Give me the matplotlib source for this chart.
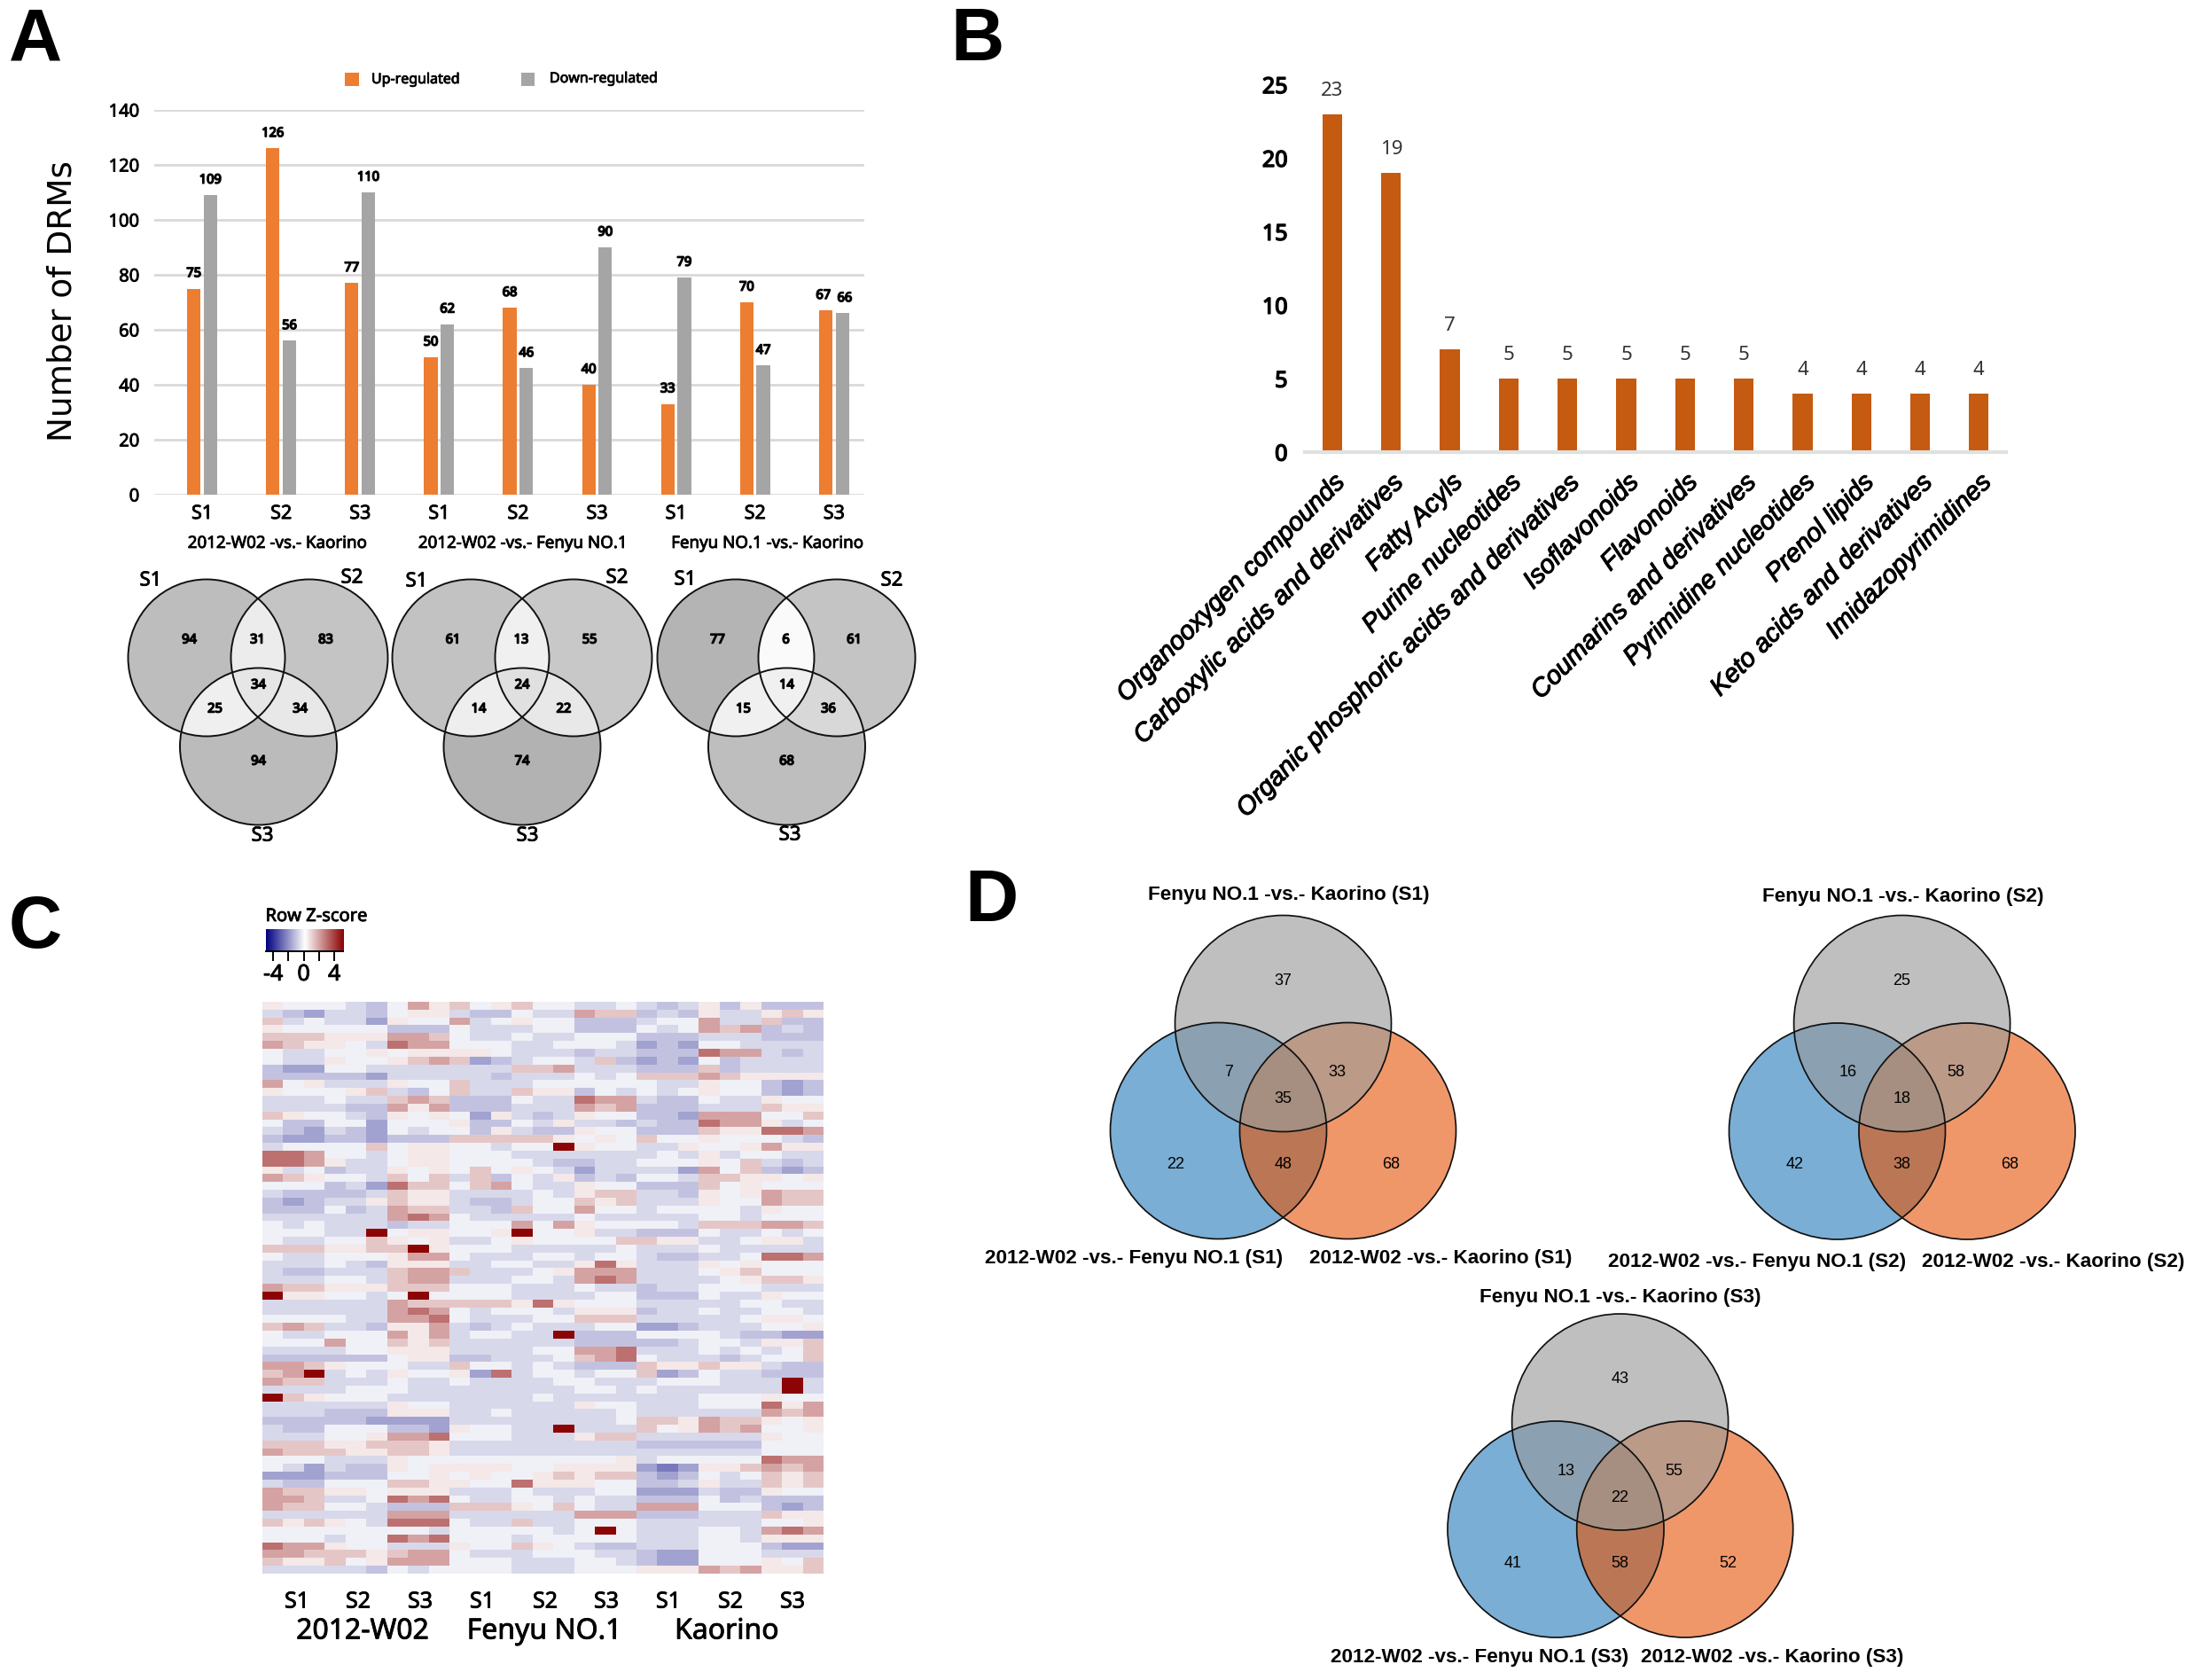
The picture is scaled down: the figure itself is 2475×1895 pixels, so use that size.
import numpy as np
import matplotlib
matplotlib.use("Agg")
import matplotlib.pyplot as plt
import matplotlib.patheffects as pe
from matplotlib.colors import LinearSegmentedColormap
from matplotlib.patches import Circle, Polygon, Rectangle

plt.rcParams['font.family'] = ['Noto Sans', 'DejaVu Sans']

W, H = 2475, 1895

# panel A
samples = ['S1', 'S2', 'S3'] * 3
up = [75, 126, 77, 50, 68, 40, 33, 70, 67]
down = [109, 56, 110, 62, 46, 90, 79, 47, 66]
comparisons = ['2012-W02 -vs.- Kaorino', '2012-W02 -vs.- Fenyu NO.1', 'Fenyu NO.1 -vs.- Kaorino']
venn_a1 = [94, 31, 83, 34, 25, 34, 94]
venn_a2 = [61, 13, 55, 24, 14, 22, 74]
venn_a3 = [77, 6, 61, 14, 15, 36, 68]

# panel B
classes = ['Organooxygen compounds', 'Carboxylic acids and derivatives', 'Fatty Acyls',
           'Purine nucleotides', 'Organic phosphoric acids and derivatives', 'Isoflavonoids',
           'Flavonoids', 'Coumarins and derivatives', 'Pyrimidine nucleotides', 'Prenol lipids',
           'Keto acids and derivatives', 'Imidazopyrimidines']
class_counts = [23, 19, 7, 5, 5, 5, 5, 5, 4, 4, 4, 4]

# panel C, one digit per cell (see levels below)
heat_levels = [-2.6, -1.8, -1.2, -0.75, -0.3, 0.45, 1.1, 1.8, 2.8, 4.9]
heat_rows = [
    "544 432 475 645 644 334 323 525 222",
    "321 332 455 322 433 766 232 533 565",
    "634 331 544 734 544 222 344 733 622",
    "544 444 222 433 344 222 434 767 232",
    "666 555 776 433 433 444 222 333 222",
    "765 543 877 444 334 443 121 443 333",
    "433 445 455 554 333 233 222 877 323",
    "433 544 567 612 344 362 121 423 333",
    "211 443 333 333 667 333 222 623 333",
    "222 221 333 332 333 434 666 765 555",
    "745 333 544 633 344 444 433 544 212",
    "544 456 324 633 655 243 434 544 212",
    "333 433 676 222 433 877 322 433 544",
    "333 322 757 222 333 767 222 333 655",
    "654 432 545 415 323 544 221 777 446",
    "422 441 444 522 435 332 322 877 534",
    "321 321 434 425 322 544 222 655 887",
    "211 221 222 666 665 454 644 544 432",
    "344 446 455 443 449 544 335 445 755",
    "887 443 455 444 333 333 343 534 433",
    "887 533 455 444 432 233 444 546 323",
    "534 233 545 464 543 133 331 746 212",
    "765 443 646 362 435 232 443 665 545",
    "444 231 866 467 433 544 222 645 444",
    "322 223 655 333 343 566 332 545 766",
    "212 335 655 322 344 656 333 544 766",
    "222 423 766 332 644 744 344 443 544",
    "333 333 787 433 333 433 333 443 444",
    "434 333 233 444 747 544 443 666 776",
    "444 339 455 445 944 533 222 433 434",
    "433 446 545 334 544 446 655 334 553",
    "666 556 695 444 333 334 333 433 333",
    "433 444 577 433 344 344 322 334 887",
    "333 432 555 334 433 585 333 545 444",
    "322 333 677 633 345 777 333 456 444",
    "333 443 677 333 443 787 333 345 665",
    "766 555 666 444 333 433 233 444 333",
    "955 443 494 444 333 344 222 433 544",
    "333 333 766 666 585 444 333 334 433",
    "333 333 787 434 443 555 233 433 443",
    "444 433 778 433 344 666 333 334 554",
    "676 332 557 323 433 344 112 333 445",
    "433 444 757 344 339 222 444 432 211",
    "444 744 656 333 333 222 223 443 556",
    "333 344 555 333 344 778 333 434 346",
    "222 222 455 223 334 678 433 323 446",
    "776 544 433 644 343 222 655 655 322",
    "679 343 544 518 344 344 612 433 222",
    "766 333 433 433 334 433 344 433 393",
    "333 344 433 333 333 443 433 333 393",
    "965 444 333 333 343 333 333 444 544",
    "333 333 544 333 333 544 333 444 857",
    "333 222 555 334 333 334 333 333 767",
    "222 221 111 333 333 334 665 766 545",
    "322 444 221 544 339 333 645 767 445",
    "333 445 778 444 333 566 333 333 544",
    "666 556 665 333 333 333 222 222 444",
    "766 655 665 333 333 333 333 333 444",
    "444 333 544 444 444 445 344 444 877",
    "431 322 545 555 445 555 101 556 767",
    "111 222 445 454 456 566 212 434 656",
    "322 444 665 544 855 544 223 533 656",
    "766 554 555 333 433 344 111 322 544",
    "776 334 878 433 443 433 222 423 222",
    "766 443 222 666 546 433 777 444 212",
    "333 333 777 333 333 777 222 333 655",
    "656 543 888 433 633 444 333 333 445",
    "444 444 443 444 443 494 333 443 787",
    "444 344 878 444 344 444 333 443 555",
    "877 544 333 544 654 322 333 444 211",
    "776 665 677 433 344 433 211 444 333",
    "655 645 777 444 333 443 211 444 546",
    "333 332 434 444 333 444 555 767 556",
]
genotypes = ['2012-W02', 'Fenyu NO.1', 'Kaorino']

# panel D
venn_d1 = [37, 7, 33, 35, 22, 48, 68]
venn_d2 = [25, 16, 58, 18, 42, 38, 68]
venn_d3 = [43, 13, 55, 22, 41, 58, 52]

# thickens the regular weight, the original text sits between regular and bold
SEMI = [pe.withStroke(linewidth=0.6, foreground='black')]
HEAVY = [pe.withStroke(linewidth=1.1, foreground='black')]


def px_axes(x0, y0, x1, y1):
    return fig.add_axes([x0 / W, 1 - y1 / H, (x1 - x0) / W, (y1 - y0) / H])


def region(circles, r):
    # convex intersection of circles, as an ordered polygon
    t = np.linspace(0, 2 * np.pi, 720, endpoint=False)
    pts = []
    for i, (cx, cy) in enumerate(circles):
        p = np.column_stack([cx + r * np.cos(t), cy + r * np.sin(t)])
        for j, (ox, oy) in enumerate(circles):
            if j != i:
                p = p[np.hypot(p[:, 0] - ox, p[:, 1] - oy) <= r + 1e-9]
        pts.append(p)
    pts = np.vstack(pts)
    c = pts.mean(axis=0)
    return pts[np.argsort(np.arctan2(pts[:, 1] - c[1], pts[:, 0] - c[0]))]


def venn(ax, a, b, c, r, cols, lw):
    # cols: a, b, c, ab, ac, bc, abc
    for cen, col in zip((a, b, c), cols[:3]):
        ax.add_patch(Circle(cen, r, fc=col, ec='none', zorder=2))
    for group, col in zip(((a, b), (a, c), (b, c), (a, b, c)), cols[3:]):
        ax.add_patch(Polygon(region(group, r), fc=col, ec=col, lw=0.5, zorder=3))
    for cen in (a, b, c):
        ax.add_patch(Circle(cen, r, fc='none', ec='#111111', lw=lw, zorder=4))


fig = plt.figure(figsize=(W / 100, H / 100), dpi=100, facecolor='white')
bg = fig.add_axes([0, 0, 1, 1])
bg.set_xlim(0, W)
bg.set_ylim(H, 0)
bg.axis('off')

# panel letters
for letter, x, y in [('A', 40, 46), ('B', 1103, 46), ('C', 40, 1047), ('D', 1119, 1017)]:
    bg.text(x, y, letter, fontsize=60, fontweight='bold', family='Liberation Sans', ha='center', va='center')

# ---- A: bars
ax = px_axes(174, 124, 975, 558)
x = np.arange(len(up))
ax.bar(x - 0.105, up, 0.17, color='#ed7d31')
ax.bar(x + 0.105, down, 0.17, color='#a5a5a5')
for i in x:
    ux, dx = i - 0.105, i + 0.105
    if up[i] == 67:
        ux -= 0.03
        dx += 0.03
    ax.text(ux, up[i] + 3, str(up[i]), ha='center', va='bottom', fontsize=10.5, path_effects=HEAVY)
    ax.text(dx, down[i] + 3, str(down[i]), ha='center', va='bottom', fontsize=10.5, path_effects=HEAVY)
ax.set_xlim(-0.606, 8.384)
ax.set_ylim(0, 140)
ax.set_yticks(range(0, 141, 20))
ax.set_xticks(x, samples)
ax.grid(axis='y', color='#d9d9d9', lw=2)
ax.set_axisbelow(True)
for s in ax.spines.values():
    s.set_visible(False)
ax.tick_params(length=0, labelsize=14.5)
ax.tick_params(axis='x', labelsize=15.5, pad=8)
ax.tick_params(axis='y', pad=12)
for lab in ax.get_xticklabels() + ax.get_yticklabels():
    lab.set_path_effects(SEMI)

for cx, label in zip((313, 590, 866), comparisons):
    bg.text(cx, 613, label, ha='center', va='center', fontsize=13.5, path_effects=SEMI)
bg.text(71, 339, 'Number of DRMs', rotation=90, ha='center', va='center', fontsize=27, family='DejaVu Sans')
bg.add_patch(Rectangle((389, 82), 16, 15, fc='#ed7d31', ec='none'))
bg.add_patch(Rectangle((588, 82), 15, 15, fc='#a5a5a5', ec='none'))
bg.text(419, 90, 'Up-regulated', va='center', fontsize=11.5, path_effects=SEMI)
bg.text(620, 89, 'Down-regulated', va='center', fontsize=11.5, path_effects=SEMI)

# ---- A: venns
R_a = 88.5
y_top, y_bot = 742, 842
a_cols = [
    ['#bdbdbd', '#c4c4c4', '#bbbbbb', '#ececec', '#efefef', '#e8e8e8', '#e6e6e6'],
    ['#c2c2c2', '#c8c8c8', '#b2b2b2', '#f0f0f0', '#eeeeee', '#e8e8e8', '#e0e0e0'],
    ['#b4b4b4', '#c4c4c4', '#bebebe', '#fafafa', '#f0f0f0', '#d8d8d8', '#f0f0f0'],
]
a_dx = [-78, -1, 76, 0, -49, 47, 0]
a_dy = [722, 722, 722, 773, 800, 800, 859]
groups_a = [(233, 349, 291.5), (531, 647, 589), (830, 944, 887.5)]
for (xa, xb, xc), cols, vals in zip(groups_a, a_cols, (venn_a1, venn_a2, venn_a3)):
    venn(bg, (xa, y_top), (xb, y_top), (xc, y_bot), R_a, cols, 1.4)
    for v, dx, yy in zip(vals, a_dx, a_dy):
        bg.text(xc + dx, yy, str(v), ha='center', va='center', fontsize=10.5, zorder=5, path_effects=HEAVY)
a_tags = [('S1', 170, 655), ('S2', 397, 652), ('S3', 296, 943),
          ('S1', 470, 656), ('S2', 696, 652), ('S3', 595, 943),
          ('S1', 773, 654), ('S2', 1006, 655), ('S3', 891, 942)]
for t, xx, yy in a_tags:
    bg.text(xx, yy, t, ha='center', va='center', fontsize=16, path_effects=SEMI)

# ---- B
ax = px_axes(1472, 95.6, 2263, 510)
xb = np.arange(len(class_counts))
ax.bar(xb, class_counts, 0.335, color='#c55a11')
for i, v in zip(xb, class_counts):
    ax.text(i, v + 0.95, str(v), ha='center', va='bottom', fontsize=16, color='#333333')
ax.set_xlim((1472 - 1503) / 66.3, (2263 - 1503) / 66.3)
ax.set_ylim(0, 25)
ax.set_yticks(range(0, 26, 5))
ax.set_xticks(xb, classes, rotation=45, ha='right', rotation_mode='anchor',
              style='italic', family='Liberation Sans', fontsize=21)
for lab in ax.get_xticklabels():
    lab.set_path_effects([pe.withStroke(linewidth=0.8, foreground='black')])
for s in ('top', 'right', 'left'):
    ax.spines[s].set_visible(False)
ax.spines['bottom'].set_color('#e0e0e0')
ax.spines['bottom'].set_linewidth(3)
ax.tick_params(length=0)
ax.tick_params(axis='x', pad=14)
ax.tick_params(axis='y', labelsize=18, pad=14)
for lab in ax.get_yticklabels():
    lab.set_path_effects(HEAVY)

# ---- C
cmap = LinearSegmentedColormap.from_list('zs', ['#000080', '#ffffff', '#8b0000'])
grid = np.array([[heat_levels[int(ch)] for ch in row.replace(' ', '')] for row in heat_rows])
ax = px_axes(296, 1130, 929, 1775)
ax.imshow(grid, cmap=cmap, vmin=-5, vmax=5, aspect='auto', interpolation='nearest')
ax.axis('off')

cb = px_axes(299.5, 1048, 387, 1073)
cb.imshow(np.linspace(-5, 5, 256)[None, :], cmap=cmap, vmin=-5, vmax=5, aspect='auto', extent=(-5, 5.15, 0, 1))
cb.set_yticks([])
cb.set_xticks([-4, -2, 0, 2, 4], ['-4', '', '0', '', '4'])
cb.tick_params(axis='x', length=8, width=1.4, labelsize=18, pad=2)
for lab in cb.get_xticklabels():
    lab.set_path_effects(SEMI)
for s in ('top', 'left', 'right'):
    cb.spines[s].set_visible(False)
cb.spines['bottom'].set_linewidth(1.4)
bg.text(357, 1034, 'Row Z-score', ha='center', va='center', fontsize=14.5, path_effects=SEMI)

for cx, t in zip((335, 404, 474, 544, 615, 684, 754, 824, 894), samples):
    bg.text(cx, 1807, t, ha='center', va='center', fontsize=18, path_effects=SEMI)
for cx, t in zip((409, 614, 820), genotypes):
    bg.text(cx, 1840, t, ha='center', va='center', fontsize=23, path_effects=SEMI)

# ---- D
d_cols = ['#bfbfbf', '#7aaed5', '#f0976a', '#8ba0b0', '#bb9a88', '#bb7755', '#a68f80']
d_off = [(0, -48), (-61, 55), (61, 55), (0, 85), (-121, 159), (0, 159), (122, 159)]
R_d = 122
panels_d = [
    (1447.5, 1154.5, 1374.5, 1520.5, 1275.5, venn_d1, 'S1', (1454, 1009), (1279, 1419), (1625, 1420)),
    (2145.6, 1154.5, 2072.5, 2219, 1276, venn_d2, 'S2', (2146.5, 1012), (1982, 1423), (2316, 1423)),
    (1827.6, 1604, 1755, 1900.7, 1725, venn_d3, 'S3', (1828, 1463), (1669, 1870), (1999, 1870)),
]
for gx, gy, bx, ox, ly, vals, st, top, left, right in panels_d:
    venn(bg, (gx, gy), (bx, ly), (ox, ly), R_d, d_cols, 1.25)
    for v, (dx, dy) in zip(vals, d_off):
        bg.text(gx + dx, gy + dy, str(v), ha='center', va='center', fontsize=13,
                family='Liberation Sans', zorder=5)
    for pos, t in ((top, f'Fenyu NO.1 -vs.- Kaorino ({st})'),
                   (left, f'2012-W02 -vs.- Fenyu NO.1 ({st})'),
                   (right, f'2012-W02 -vs.- Kaorino ({st})')):
        bg.text(pos[0], pos[1], t, ha='center', va='center', fontsize=16.2,
                fontweight='bold', family='Liberation Sans')

fig.savefig('out.png', dpi=100)
